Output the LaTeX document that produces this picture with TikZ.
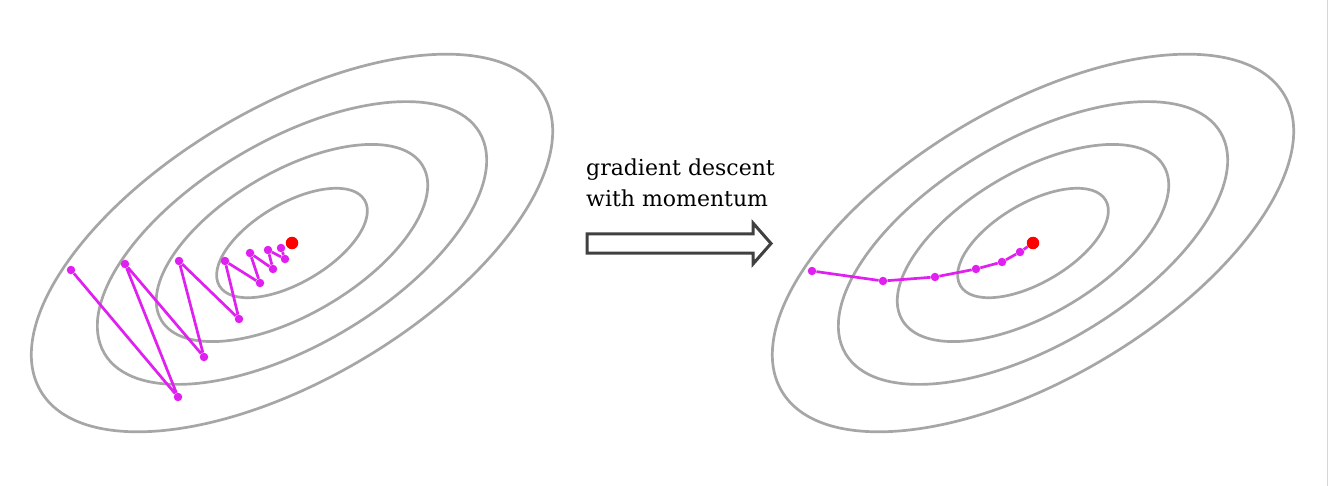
\documentclass[tikz,border=0pt]{standalone}
\usepackage{fontspec}
\setmainfont{DejaVu Serif}
\usepackage{xcolor}
\usepackage{tikz}

\definecolor{contourgray}{RGB}{166,166,166}
\definecolor{stepmagenta}{RGB}{224,32,240}
\definecolor{arrowgray}{RGB}{64,64,64}

\begin{document}
\begin{tikzpicture}[x=1pt,y=-1pt,
  contour/.style={draw=contourgray,line width=2.7pt},
  dot/.style={circle,fill=stepmagenta,inner sep=0pt,minimum size=8.5pt},
  optimum/.style={circle,fill=red,inner sep=0pt,minimum size=12.5pt},
  route/.style={draw=stepmagenta,line width=2.7pt}]
  \useasboundingbox[fill=white] (0,0) rectangle (1329,486);

  % Contours
  \foreach \cx in {292,1033} {
    \begin{scope}[shift={(\cx,243)},rotate=30.5]
      \draw[contour] (0,0) ellipse (291.7 and 136);
      \draw[contour] (0,0) ellipse (217.7 and 102.4);
      \draw[contour] (0,0) ellipse (151.8 and 71.4);
      \draw[contour] (0,0) ellipse (84.3 and 39.6);
    \end{scope}
  }

  % Plain gradient descent
  \node[optimum] (l0) at (292,243) {};
  \foreach \n/\x/\y in {1/71/270, 2/178/397, 3/125/264, 4/204/357, 5/179/261,
      6/239/319, 7/225/261, 8/260/283, 9/250/253, 10/273/269, 11/268/250,
      12/285/259, 13/281/248}
    \node[dot] (a\n) at (\x,\y) {};
  \draw[route] (a1) -- (a2) -- (a3) -- (a4) -- (a5) -- (a6) -- (a7) -- (a8)
    -- (a9) -- (a10) -- (a11) -- (a12) -- (a13);

  % With momentum
  \node[optimum] (r0) at (1033,243) {};
  \foreach \n/\x/\y in {1/812/271, 2/883/281, 3/935/277, 4/976/269,
      5/1002/262, 6/1020/252}
    \node[dot] (b\n) at (\x,\y) {};
  \draw[route] (b1) -- (b2) -- (b3) -- (b4) -- (b5) -- (b6) -- (r0);

  % Label and arrow
  \node[align=left,anchor=north west,inner sep=0pt,
    font=\fontsize{22}{31}\selectfont] (caption) at (586,159)
    {gradient descent\\with momentum};
  \draw[draw=arrowgray,line width=3pt,fill=white] (587,234) -- (753,234)
    -- (753,223) -- (771,243.5) -- (753,264) -- (753,253) -- (587,253) -- cycle;

  % Edge
  \draw[line width=1pt,draw={rgb,255:red,215;green,215;blue,215}] (1327.5,0) -- (1327.5,486);
\end{tikzpicture}
\end{document}
